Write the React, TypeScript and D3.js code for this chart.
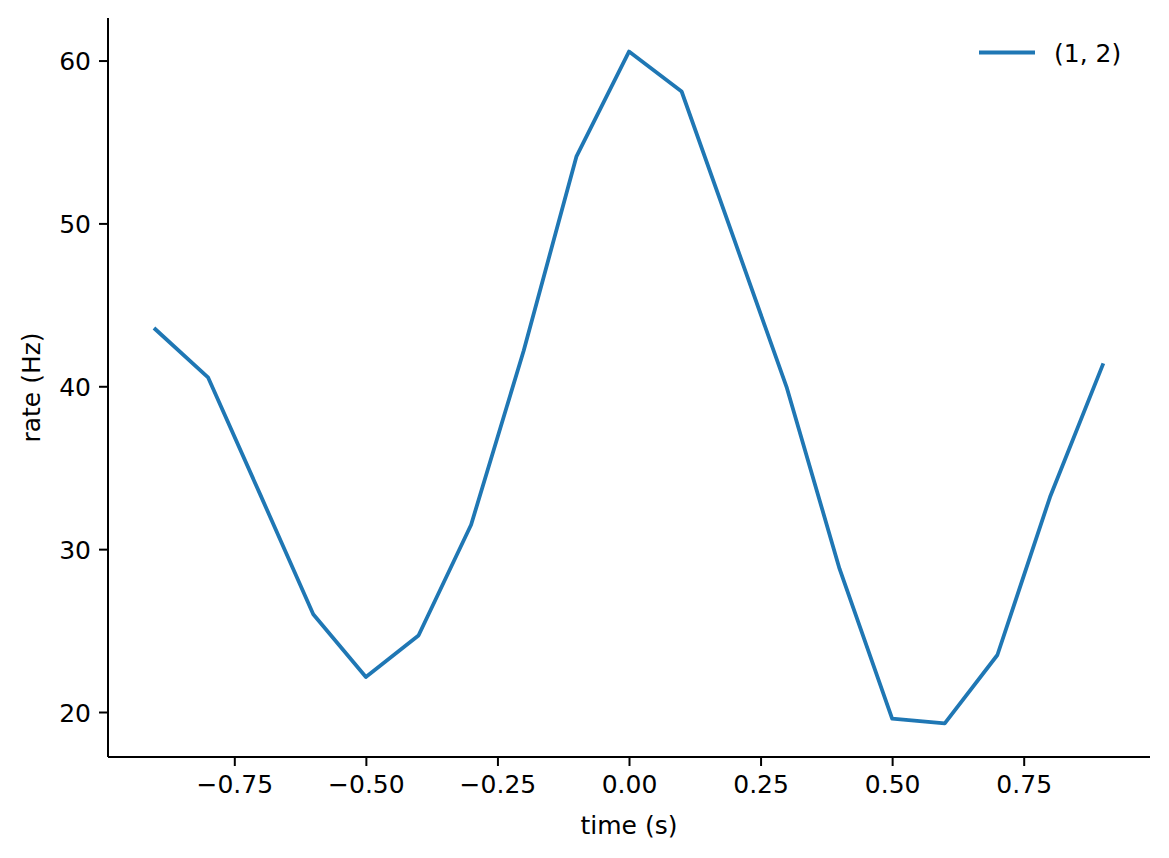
import React, { useEffect, useRef } from 'react';
import * as d3 from 'd3';

const times = [-0.9, -0.8, -0.7, -0.6, -0.5, -0.4, -0.3, -0.2, -0.1, 0.0, 0.1, 0.2, 0.3, 0.4, 0.5, 0.6, 0.7, 0.8, 0.9];
const rates = [43.5, 40.55, 33.3, 26.0, 22.15, 24.7, 31.5, 42.2, 54.1, 60.55, 58.1, 49.0, 39.9, 28.8, 19.6, 19.3, 23.5, 33.2, 41.3];
const xTicks = [-0.75, -0.5, -0.25, 0, 0.25, 0.5, 0.75];
const yTicks = [20, 30, 40, 50, 60];
const seriesLabel = '(1, 2)';

const W = 1169;
const H = 858;

const App: React.FC = () => {
  const ref = useRef<SVGSVGElement | null>(null);
  const margin = { top: 18, right: 19, bottom: 101, left: 108 };

  useEffect(() => {
    if (!ref.current) return;
    const svg = d3.select(ref.current);
    svg.selectAll('*').remove();

    const font = 'DejaVu Sans, sans-serif';
    const fs = 25;

    // 5% margins like matplotlib
    const xMin = d3.min(times)!, xMax = d3.max(times)!;
    const yMin = d3.min(rates)!, yMax = d3.max(rates)!;
    const xPad = (xMax - xMin) * 0.05;
    const yPad = (yMax - yMin) * 0.05;

    const x = d3.scaleLinear()
      .domain([xMin - xPad, xMax + xPad])
      .range([margin.left, W - margin.right]);
    const y = d3.scaleLinear()
      .domain([yMin - yPad, yMax + yPad])
      .range([H - margin.bottom, margin.top]);

    const fmtX = (d: number) => d3.format('.2f')(d).replace('-', '\u2212');

    // x axis
    const xAxis = svg.append('g')
      .attr('transform', `translate(0,${H - margin.bottom})`)
      .call(d3.axisBottom(x).tickValues(xTicks).tickFormat(d => fmtX(d as number)).tickSize(9).tickPadding(8));
    xAxis.select('.domain').attr('stroke', '#000').attr('stroke-width', 2)
      .attr('d', `M${margin.left},0H${W - margin.right}`);
    xAxis.selectAll('.tick line').attr('stroke', '#000').attr('stroke-width', 2);
    xAxis.selectAll('.tick text')
      .attr('fill', '#000')
      .style('font-family', font)
      .style('font-size', `${fs}px`)
      .attr('dy', '0.74em');

    // y axis
    const yAxis = svg.append('g')
      .attr('transform', `translate(${margin.left},0)`)
      .call(d3.axisLeft(y).tickValues(yTicks).tickFormat(d3.format('d')).tickSize(9).tickPadding(8));
    yAxis.select('.domain').attr('stroke', '#000').attr('stroke-width', 2)
      .attr('d', `M0,${margin.top}V${H - margin.bottom}`);
    yAxis.selectAll('.tick line').attr('stroke', '#000').attr('stroke-width', 2);
    yAxis.selectAll('.tick text')
      .attr('fill', '#000')
      .style('font-family', font)
      .style('font-size', `${fs}px`)
      .attr('dy', '0.36em');

    // data line
    const line = d3.line<number>()
      .x((_, i) => x(times[i]))
      .y(d => y(d));
    svg.append('path')
      .datum(rates)
      .attr('fill', 'none')
      .attr('stroke', '#1f77b4')
      .attr('stroke-width', 3.8)
      .attr('stroke-linejoin', 'round')
      .attr('stroke-linecap', 'square')
      .attr('d', line);

    // axis labels
    svg.append('text')
      .attr('x', (margin.left + W - margin.right) / 2)
      .attr('y', 834)
      .attr('text-anchor', 'middle')
      .style('font-family', font)
      .style('font-size', `${fs}px`)
      .text('time (s)');

    svg.append('text')
      .attr('transform', `translate(40,${(margin.top + H - margin.bottom) / 2}) rotate(-90)`)
      .attr('text-anchor', 'middle')
      .style('font-family', font)
      .style('font-size', `${fs}px`)
      .text('rate (Hz)');

    // legend (no frame)
    const lg = svg.append('g');
    lg.append('line')
      .attr('x1', 979).attr('x2', 1035)
      .attr('y1', 52.5).attr('y2', 52.5)
      .attr('stroke', '#1f77b4')
      .attr('stroke-width', 3.8);
    lg.append('text')
      .attr('x', 1054)
      .attr('y', 61.5)
      .style('font-family', font)
      .style('font-size', `${fs}px`)
      .text(seriesLabel);
  }, []);

  return (
    <svg
      ref={ref}
      width={W}
      height={H}
      style={{ position: 'fixed', top: 0, left: 0, background: '#fff' }}
    />
  );
};

export default App;
